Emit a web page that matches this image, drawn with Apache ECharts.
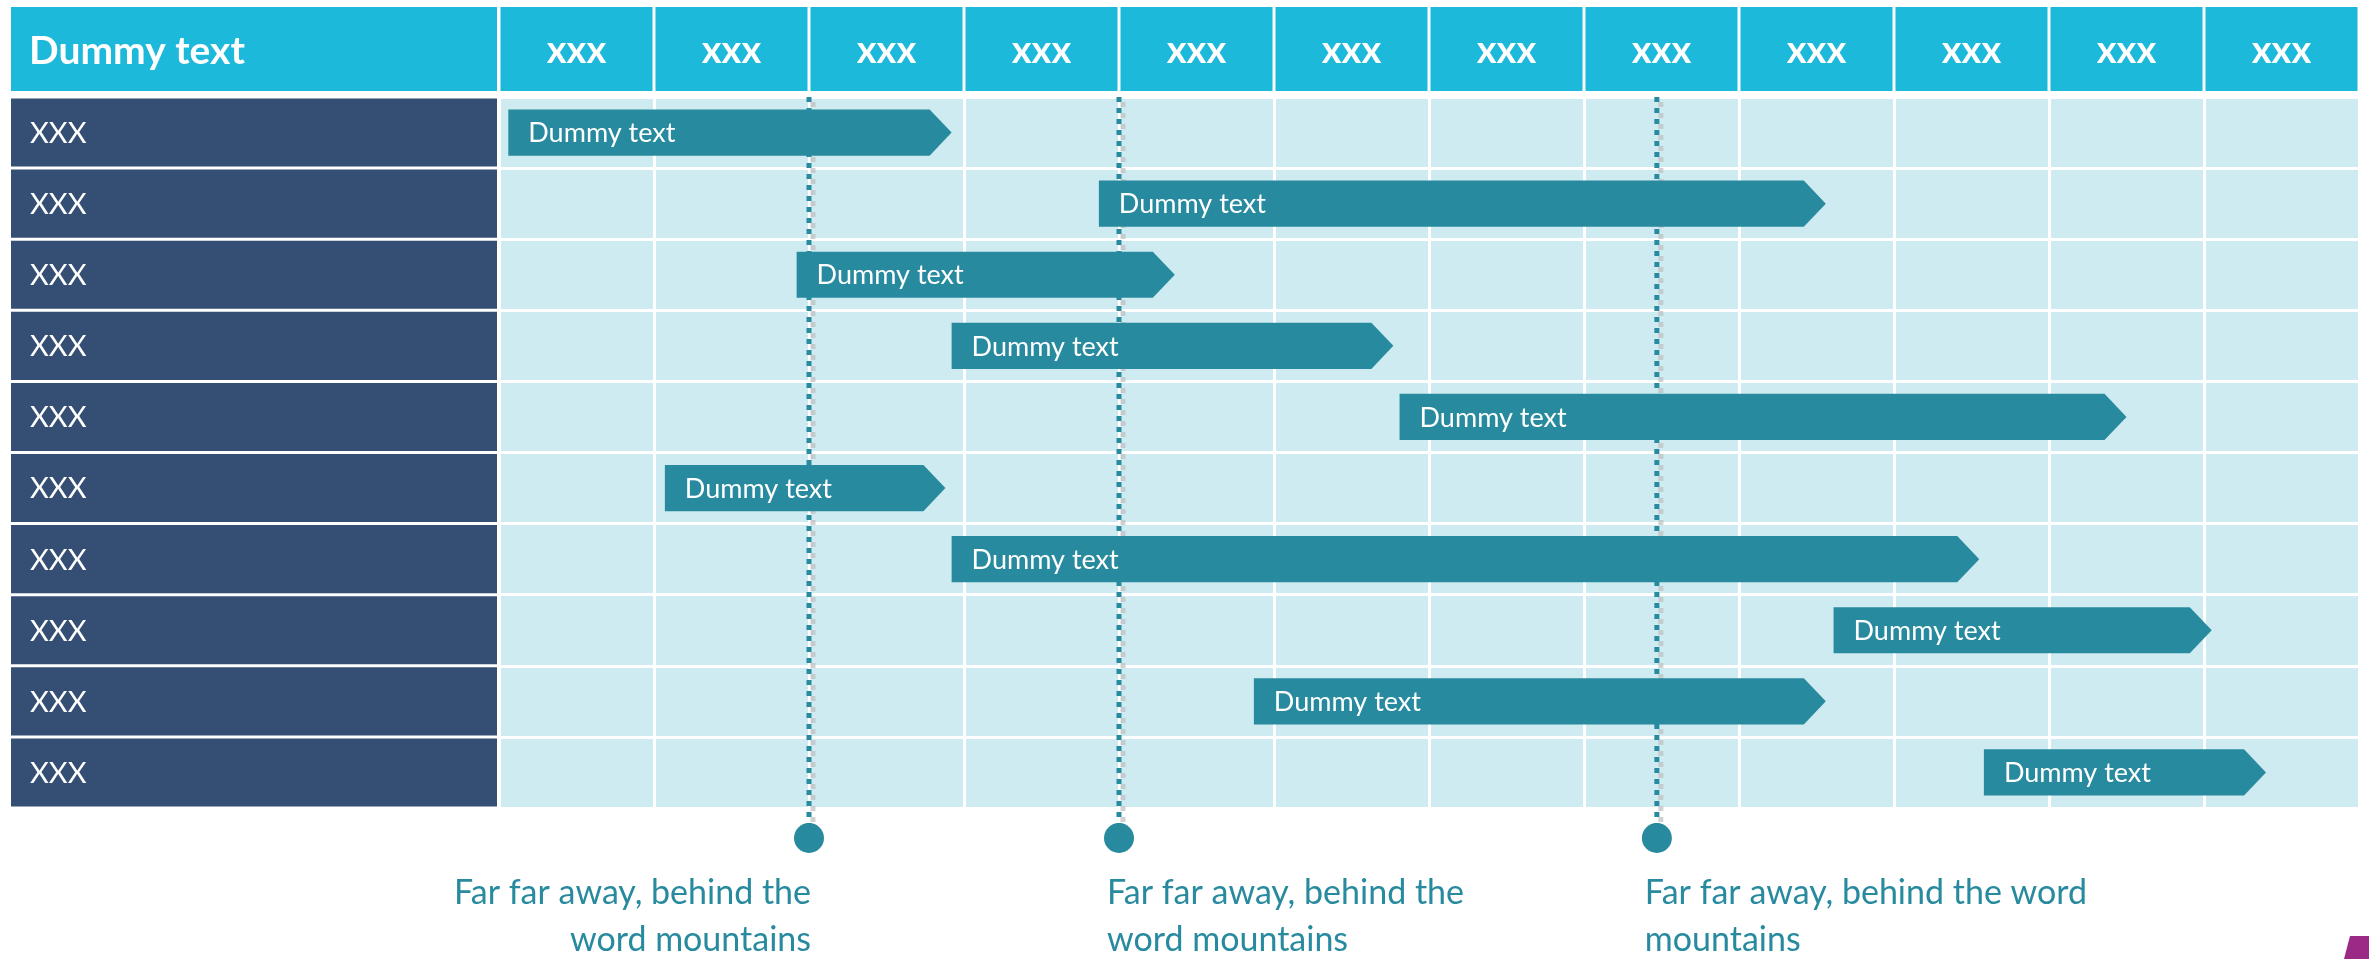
<!DOCTYPE html>
<html><head><meta charset="utf-8">
<script src="https://cdn.jsdelivr.net/npm/echarts@6/dist/echarts.min.js"></script>
<style>html,body{margin:0;padding:0;background:#fff}#c{width:2369px;height:959px}</style>
</head><body><div id="c"></div>
<script>
// ---- data ----
const cornerTitle = 'Dummy text';
const columnLabels = ['xxx','xxx','xxx','xxx','xxx','xxx','xxx','xxx','xxx','xxx','xxx','xxx'];
const rowLabels = ['XXX','XXX','XXX','XXX','XXX','XXX','XXX','XXX','XXX','XXX'];
const taskLabels = ['Dummy text','Dummy text','Dummy text','Dummy text','Dummy text','Dummy text','Dummy text','Dummy text','Dummy text','Dummy text'];
const taskStart = [0.06, 3.87, 1.92, 2.92, 5.81, 1.07, 2.92, 8.61, 4.87, 9.58];
const taskEnd   = [2.92, 8.56, 4.36, 5.77, 10.50, 2.88, 9.55, 11.05, 8.56, 11.40];
const milestoneValues = [2.0, 4.0, 7.47];
const milestoneTexts = [
  'Far far away, behind the\nword mountains',
  'Far far away, behind the\nword mountains',
  'Far far away, behind the word\nmountains'
];
const milestoneAlign = ['right', 'left', 'left'];

// ---- style ----
const FONT = 'Lato, "Open Sans", sans-serif';
const CYAN = '#1DB9DA', NAVY = '#344E74', CELL = '#CDEBF0', TEAL = '#288A9E';

const chart = echarts.init(document.getElementById('c'), null, {renderer: 'canvas'});

function headerItem(params, api) {
  const cs = params.coordSys;
  const i = api.value(0);
  const x0 = api.coord([i, 0])[0], x1 = api.coord([i + 1, 0])[0];
  const top = cs.y - 90, h = 84;
  return {type: 'group', children: [
    {type: 'rect', shape: {x: x0 + 1.5, y: top, width: x1 - x0 - 3, height: h}, style: {fill: CYAN}},
    {type: 'text', style: {text: columnLabels[params.dataIndex], x: (x0 + x1) / 2, y: top + h / 2 + 2,
      align: 'center', verticalAlign: 'middle', fill: '#fff', font: 'bold 38px ' + FONT}}
  ]};
}
function cornerItem(params, api) {
  const cs = params.coordSys;
  const top = cs.y - 90, h = 84, left = 11;
  return {type: 'group', children: [
    {type: 'rect', shape: {x: left, y: top, width: cs.x - 2 - left, height: h}, style: {fill: CYAN}},
    {type: 'text', style: {text: cornerTitle, x: left + 18, y: top + h / 2 + 2,
      align: 'left', verticalAlign: 'middle', fill: '#fff', font: 'bold 39px ' + FONT}}
  ]};
}
function rowItem(params, api) {
  const cs = params.coordSys;
  const i = api.value(1);
  const y0 = api.coord([0, i])[1], y1 = api.coord([0, i + 1])[1];
  const left = 11;
  return {type: 'group', children: [
    {type: 'rect', shape: {x: left, y: y0 + 1.5, width: cs.x - 2 - left, height: y1 - y0 - 3}, style: {fill: NAVY}},
    {type: 'text', style: {text: rowLabels[params.dataIndex], x: left + 19, y: (y0 + y1) / 2 + 1,
      align: 'left', verticalAlign: 'middle', fill: '#fff', font: '29px ' + FONT}}
  ]};
}
function milestoneItem(params, api) {
  const cs = params.coordSys;
  const x = api.coord([api.value(0), 0])[0];
  const bottom = cs.y + cs.height;
  const cy = bottom + 30;
  const al = milestoneAlign[params.dataIndex];
  return {type: 'group', children: [
    {type: 'line', shape: {x1: x, y1: cs.y, x2: x, y2: cy - 14},
      style: {stroke: TEAL, lineWidth: 5, lineDash: [5, 6], shadowColor: 'rgba(190,190,190,0.7)', shadowOffsetX: 4, shadowOffsetY: 5}},
    {type: 'circle', shape: {cx: x, cy: cy, r: 15}, style: {fill: TEAL}},
    {type: 'text', style: {text: milestoneTexts[params.dataIndex], x: al === 'right' ? x + 2 : x - 12, y: bottom + 62,
      align: al, verticalAlign: 'top', lineHeight: 47, fill: TEAL, font: '34px ' + FONT}}
  ]};
}
function barItem(params, api) {
  const s = api.value(0), i = api.value(1), e = api.value(2);
  const xs = api.coord([s, 0])[0], xe = api.coord([e, 0])[0];
  const y0 = api.coord([0, i])[1], y1 = api.coord([0, i + 1])[1];
  const yc = (y0 + y1) / 2, h = (y1 - y0) * 0.65;
  const tip = 22;
  return {type: 'group', children: [
    {type: 'polygon', shape: {points: [[xs, yc - h / 2], [xe - tip, yc - h / 2], [xe, yc], [xe - tip, yc + h / 2], [xs, yc + h / 2]]},
      style: {fill: TEAL}},
    {type: 'text', style: {text: taskLabels[params.dataIndex], x: xs + 20, y: yc + 1,
      align: 'left', verticalAlign: 'middle', fill: '#fff', font: '27px ' + FONT}}
  ]};
}

const hiddenAxis = {axisLine: {show: false}, axisTick: {show: false}, axisLabel: {show: false},
  splitLine: {show: true, lineStyle: {color: '#ffffff', width: 3}}};

chart.setOption({
  animation: false,
  backgroundColor: '#ffffff',
  grid: {left: 499, top: 97, width: 1860, height: 711, show: true, backgroundColor: CELL, borderWidth: 0},
  xAxis: Object.assign({type: 'value', min: 0, max: 12, interval: 1}, hiddenAxis),
  yAxis: Object.assign({type: 'value', min: 0, max: 10, interval: 1, inverse: true}, hiddenAxis),
  graphic: [{type: 'polygon', shape: {points: [[2344, 959], [2350, 936], [2369, 936], [2369, 959]]}, style: {fill: '#9B2A86'}}],
  series: [
    {type: 'custom', name: 'header', z: 2, renderItem: headerItem, data: columnLabels.map((l, i) => [i, 0])},
    {type: 'custom', name: 'corner', z: 2, renderItem: cornerItem, data: [[0, 0]]},
    {type: 'custom', name: 'rows', z: 2, renderItem: rowItem, data: rowLabels.map((l, i) => [0, i])},
    {type: 'custom', name: 'milestones', z: 3, renderItem: milestoneItem, data: milestoneValues.map(v => [v, 0])},
    {type: 'custom', name: 'tasks', z: 4, renderItem: barItem, data: taskStart.map((s, i) => [s, i, taskEnd[i]])}
  ]
});
</script></body></html>
